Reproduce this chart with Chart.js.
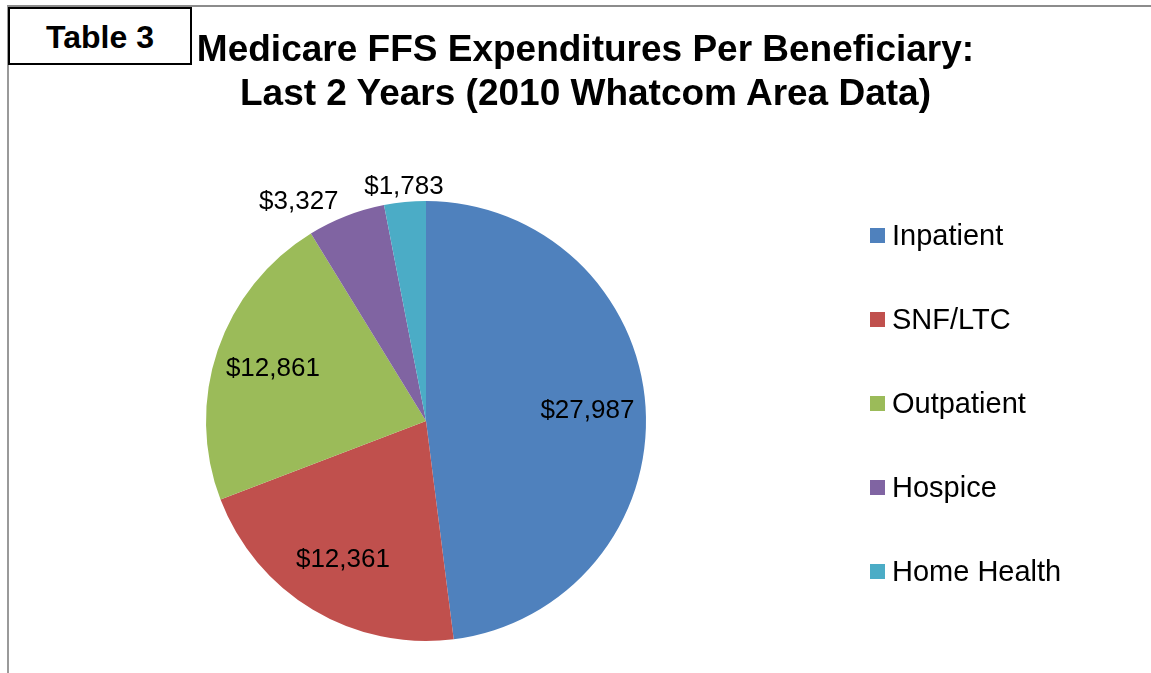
<!DOCTYPE html>
<html>
<head>
<meta charset="utf-8">
<script src="https://cdn.jsdelivr.net/npm/chart.js@4.4.1/dist/chart.umd.min.js"></script>
<style>
  html, body { margin: 0; padding: 0; background: #fff; }
  body { width: 1151px; height: 673px; position: relative; overflow: hidden;
         font-family: "Liberation Sans", Arial, sans-serif; }
  #frame { position: absolute; left: 7px; top: 5px; width: 1200px; height: 700px;
           border-top: 2px solid #8c8c8c; border-left: 2px solid #9a9a9a; }
  #tag { position: absolute; left: 8px; top: 7px; width: 180px; height: 54px;
         border: 2px solid #000; background: #fff; text-align: center;
         font-weight: bold; font-size: 32px; line-height: 56px; z-index: 3; }
  #title { position: absolute; left: 0; width: 1171px; top: 27px; text-align: center;
           font-weight: bold; font-size: 37px; line-height: 44px; color: #000; z-index: 2; }
  #wrap { position: absolute; left: 0; top: 0; width: 1151px; height: 673px; z-index: 1; }
</style>
</head>
<body>
<div id="frame"></div>
<div id="tag">Table 3</div>
<div id="title">Medicare FFS Expenditures Per Beneficiary:<br>Last 2 Years (2010 Whatcom Area Data)</div>
<div id="wrap"><canvas id="c" width="1151" height="673"></canvas></div>
<script>
const categories = ["Inpatient", "SNF/LTC", "Outpatient", "Hospice", "Home Health"];
const expenditures = [27987, 12361, 12861, 3327, 1783];
const sliceColors = ["#4F81BD", "#C0504D", "#9BBB59", "#8064A2", "#4BACC6"];

const FONT = '"Liberation Sans", Arial, sans-serif';

const labelPlugin = {
  id: 'excelLabels',
  afterDatasetsDraw(chart) {
    const ctx = chart.ctx;
    const meta = chart.getDatasetMeta(0);
    const total = expenditures.reduce((a, b) => a + b, 0);
    ctx.save();
    ctx.fillStyle = '#000';
    ctx.font = '26px ' + FONT;
    meta.data.forEach((arc, i) => {
      const p = arc.getProps(['x', 'y', 'startAngle', 'endAngle', 'outerRadius'], true);
      const mid = (p.startAngle + p.endAngle) / 2;
      const dx = Math.cos(mid), dy = Math.sin(mid);
      const txt = '$' + expenditures[i].toLocaleString('en-US');
      const frac = expenditures[i] / total;
      if (frac > 0.1) {
        const r = p.outerRadius * 0.735;
        ctx.textAlign = 'center';
        ctx.textBaseline = 'middle';
        ctx.fillText(txt, p.x + dx * r, p.y + dy * r);
      } else {
        const r = p.outerRadius + 10;
        const ax = p.x + dx * r, ay = p.y + dy * r;
        ctx.textAlign = Math.abs(dx) < 0.25 ? 'center' : (dx < 0 ? 'right' : 'left');
        ctx.textBaseline = dy < 0 ? 'alphabetic' : 'top';
        ctx.fillText(txt, ax - (Math.abs(dx) < 0.25 ? 0 : 4), ay + 2);
      }
    });
    ctx.restore();
  },
  afterDraw(chart) {
    const ctx = chart.ctx;
    const ds = chart.data.datasets[0];
    ctx.save();
    ctx.font = '29px ' + FONT;
    ctx.textAlign = 'left';
    ctx.textBaseline = 'middle';
    chart.data.labels.forEach((lab, i) => {
      const y = 236 + i * 84;
      ctx.fillStyle = ds.backgroundColor[i];
      ctx.fillRect(870, y - 8, 15, 15);
      ctx.fillStyle = '#000';
      ctx.fillText(lab, 892, y + 1);
    });
    ctx.restore();
  }
};

new Chart(document.getElementById('c'), {
  type: 'pie',
  data: {
    labels: categories,
    datasets: [{
      data: expenditures,
      backgroundColor: sliceColors,
      borderWidth: 0
    }]
  },
  options: {
    responsive: false,
    animation: false,
    layout: { padding: { left: 206, right: 505, top: 201, bottom: 32 } },
    plugins: {
      legend: { display: false },
      title: { display: false },
      tooltip: { enabled: false }
    }
  },
  plugins: [labelPlugin]
});
</script>
</body>
</html>
